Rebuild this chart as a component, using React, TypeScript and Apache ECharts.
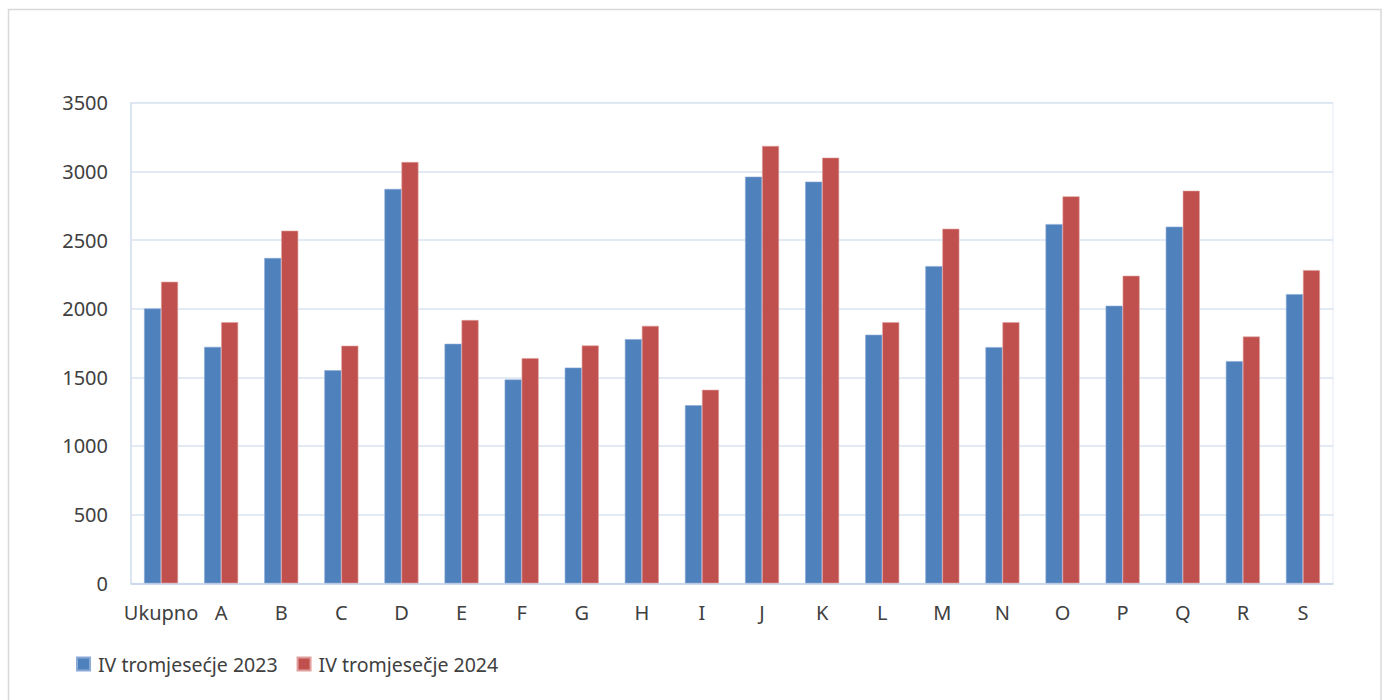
import React, { useEffect, useRef } from "react";
import * as echarts from "echarts";

const categories = ["Ukupno", "A", "B", "C", "D", "E", "F", "G", "H", "I", "J", "K", "L", "M", "N", "O", "P", "Q", "R", "S"];
const series2023 = [2001, 1722, 2369, 1552, 2872, 1744, 1484, 1571, 1778, 1297, 2961, 2925, 1810, 2310, 1720, 2616, 2021, 2597, 1618, 2106];
const series2024 = [2196, 1902, 2568, 1730, 3068, 1917, 1640, 1732, 1875, 1409, 3185, 3100, 1902, 2582, 1902, 2818, 2240, 2859, 1797, 2281];
const seriesNames = ["IV tromjesećje 2023", "IV tromjesečje 2024"];

const FONT = "'Noto Sans', sans-serif";
const TEXT = "#404040";

export default function App() {
  const ref = useRef<HTMLDivElement>(null);
  useEffect(() => {
    if (!ref.current) return;
    const chart = echarts.init(ref.current, null, { renderer: "svg" });
    chart.setOption({
      animation: false,
      backgroundColor: "#ffffff",
      textStyle: { fontFamily: FONT, color: TEXT },
      graphic: [
        {
          type: "rect",
          shape: { x: 8.5, y: 9.5, width: 1372.5, height: 700 },
          style: { fill: "none", stroke: "#d9d9d9", lineWidth: 1.5 },
          silent: true,
        },
      ],
      grid: {
        left: 131,
        right: 54,
        top: 102.7,
        bottom: 116.7,
        show: true,
        borderColor: "#e3eaf5",
        borderWidth: 1,
      },
      legend: {
        left: 76,
        top: 654,
        padding: 0,
        icon: "rect",
        itemWidth: 13,
        itemHeight: 13,
        itemGap: 19,
        textStyle: { fontFamily: FONT, fontSize: 19.5, color: TEXT, padding: [0, 0, 0, 3] },
        data: seriesNames,
      },
      xAxis: {
        type: "category",
        data: categories,
        axisLine: { show: true, lineStyle: { color: "#c6d4e9", width: 1.5 } },
        axisTick: { show: false },
        axisLabel: { color: TEXT, fontFamily: FONT, fontSize: 20, margin: 19, interval: 0 },
        splitLine: { show: false },
      },
      yAxis: {
        type: "value",
        min: 0,
        max: 3500,
        interval: 500,
        axisLine: { show: true, lineStyle: { color: "#d3deee", width: 1.5 } },
        axisTick: { show: false },
        axisLabel: {
          color: TEXT,
          fontFamily: FONT,
          fontSize: 20,
          margin: 23,
          formatter: (v: number) => String(v),
        },
        splitLine: { show: true, lineStyle: { color: "#d9e3f1", width: 1.5 } },
      },
      series: [
        {
          name: seriesNames[0],
          type: "bar",
          data: series2023,
          barWidth: 17,
          barGap: "0%",
          itemStyle: { color: "#4f81bd", borderColor: "#8aa9d6", borderWidth: 0.6 },
        },
        {
          name: seriesNames[1],
          type: "bar",
          data: series2024,
          barWidth: 17,
          barGap: "0%",
          itemStyle: { color: "#c0504d", borderColor: "#e0a09e", borderWidth: 0.6 },
        },
      ],
    });
    return () => chart.dispose();
  }, []);
  return (
    <div
      ref={ref}
      style={{ position: "fixed", left: 0, top: 0, width: 1387, height: 700, background: "#fff" }}
    />
  );
}
